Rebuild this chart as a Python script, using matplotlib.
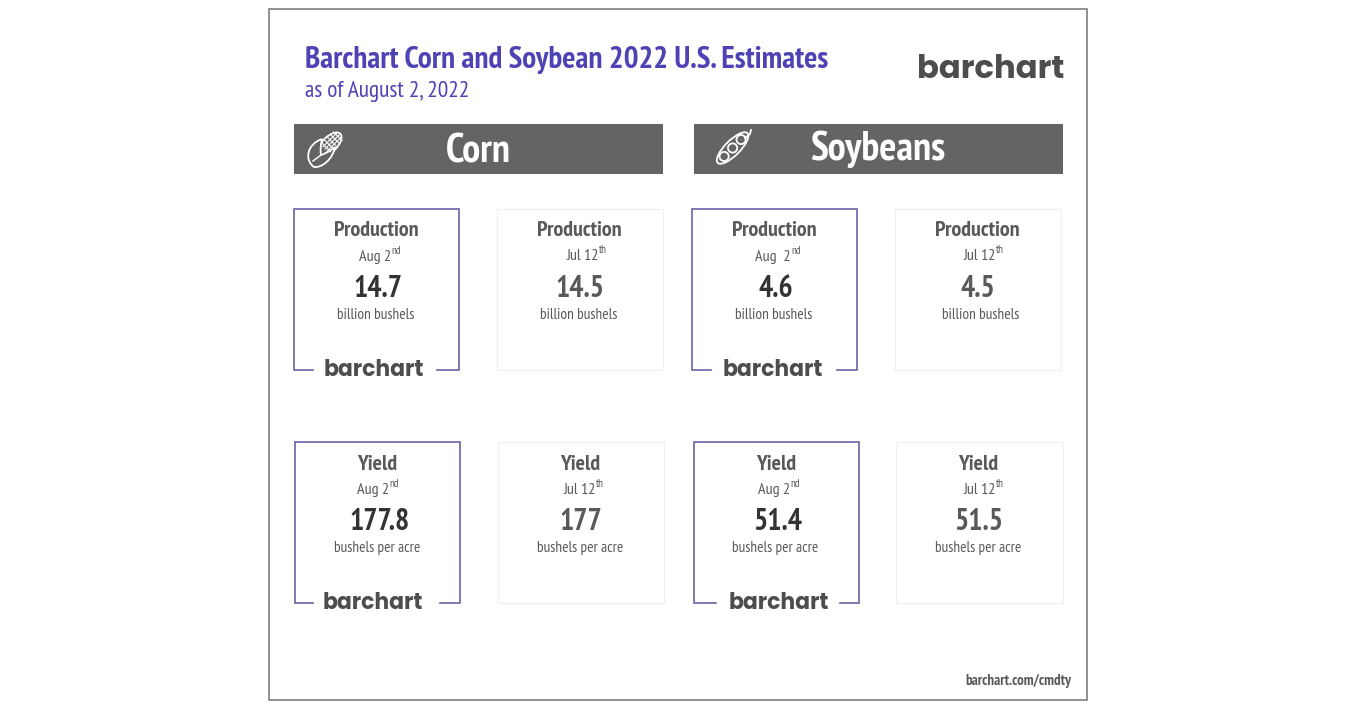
import matplotlib
matplotlib.use('Agg')
import matplotlib.pyplot as plt
from matplotlib.patches import Rectangle, Ellipse, Circle, PathPatch
from matplotlib.path import Path
from matplotlib.transforms import Affine2D

plt.rcParams['font.family'] = ['PT Sans Narrow', 'Open Sans Condensed', 'Liberation Sans Narrow', 'Liberation Sans', 'DejaVu Sans']

PURPLE = '#4f42b5'
BOX_PURPLE = '#6a62a8'
GREY = '#58595b'
BAR_GREY = '#636466'
DARK = '#333333'

# chart values
title = 'Barchart Corn and Soybean 2022 U.S. Estimates'
subtitle = 'as of August 2, 2022'
crops = ['Corn', 'Soybeans']
metrics = ['Production', 'Production', 'Production', 'Production',
           'Yield', 'Yield', 'Yield', 'Yield']
dates = ['Aug 2', 'Jul 12', 'Aug  2', 'Jul 12', 'Aug 2', 'Jul 12', 'Aug 2', 'Jul 12']
suffixes = ['nd', 'th', 'nd', 'th', 'nd', 'th', 'nd', 'th']
values = ['14.7', '14.5', '4.6', '4.5', '177.8', '177', '51.4', '51.5']
units = ['billion bushels'] * 4 + ['bushels per acre'] * 4
latest = [True, False, True, False, True, False, True, False]

# layout in pixels
card_x = [294, 497, 692, 895, 295, 498, 694, 896]
card_y = [209, 209, 209, 209, 442, 442, 442, 442]
card_w = [165, 166, 165, 166, 165, 166, 165, 167]
card_h = 161
metric_cx = [376, 579, 774, 977, 377, 580, 776, 978]
date_x = [359, 566, 755, 963, 357, 563, 758, 963]
value_cx = [378, 580, 776, 978, 380, 581, 778, 979]
unit_cx = [376, 579, 774, 981, 377, 580, 775, 978]
gap_l = [313, 0, 711, 0, 313, 0, 716, 0]
gap_r = [437, 0, 837, 0, 440, 0, 840, 0]
logo_cx = [374, 0, 773, 0, 373, 0, 779, 0]

fig = plt.figure(figsize=(13.62, 7.12), dpi=100)
ax = fig.add_axes([0, 0, 1, 1])
ax.set_xlim(0, 1362)
ax.set_ylim(712, 0)
ax.axis('off')


def logo(cx, baseline, size):
    ax.text(cx, baseline, 'barchart', family=['Poppins', 'Inter', 'DejaVu Sans'], weight='bold',
            fontsize=size, color='#4d4d4f', ha='center', va='baseline')


def corn_icon(cx, cy, lw=1.3):
    rot = Affine2D().rotate_deg_around(cx + 6, cy - 6, 45) + ax.transData
    ax.add_patch(Ellipse((cx + 6, cy - 6), 15, 29, fc=BAR_GREY, ec='white', lw=lw, transform=rot))
    # kernel grid
    for dy in (-17, -13, -9, -5, -1):
        ax.plot([cx, cx + 12], [cy + dy, cy + dy], color='white', lw=0.8, transform=rot)
    for dx in (3, 6, 9):
        ax.plot([cx + dx, cx + dx], [cy - 19, cy + 1], color='white', lw=0.8, transform=rot)
    # husk leaves
    husk = Path([(cx - 2, cy - 11), (cx - 17, cy - 6), (cx - 20, cy + 10), (cx - 10, cy + 17),
                 (cx - 2, cy + 18), (cx + 9, cy + 9), (cx + 11, cy - 3),
                 (cx + 5, cy + 2), (cx, cy + 4), (cx - 3, cy + 5),
                 (cx - 4, cy - 1), (cx - 3, cy - 6), (cx - 2, cy - 11)],
                [Path.MOVETO, Path.CURVE4, Path.CURVE4, Path.CURVE4,
                 Path.CURVE4, Path.CURVE4, Path.CURVE4,
                 Path.CURVE4, Path.CURVE4, Path.CURVE4,
                 Path.CURVE4, Path.CURVE4, Path.CURVE4])
    ax.add_patch(PathPatch(husk, fc=BAR_GREY, ec='white', lw=lw))
    ax.plot([cx - 11, cx - 3], [cy + 11, cy + 5], color='white', lw=lw * 0.8)


def soy_icon(cx, cy, lw=1.3):
    rot = Affine2D().rotate_deg_around(cx, cy, 45) + ax.transData
    ax.add_patch(Ellipse((cx - 1, cy + 1), 15, 42, fc=BAR_GREY, ec='white', lw=lw, transform=rot))
    # pod tip
    ax.plot([cx + 11, cx + 16, cx + 17], [cy - 10, cy - 14, cy - 18], color='white', lw=lw)
    for dy in (-12, 0, 12):
        ax.add_patch(Circle((cx - 1, cy + 1 + dy), 4.6, fc=BAR_GREY, ec='white', lw=lw, transform=rot))


# outer frame
ax.add_patch(Rectangle((269, 9), 818, 691, fc='white', ec='#7f7f7f', lw=1.2))

ax.text(305, 60, title, color=PURPLE, fontsize=22.4, weight='bold', va='center')
ax.text(305, 92, subtitle, color=PURPLE, fontsize=16.8, va='center')
logo(991, 78, 23.2)

# crop header bars
ax.add_patch(Rectangle((294, 124), 369, 50, fc=BAR_GREY, ec='none'))
ax.add_patch(Rectangle((694, 124), 369, 50, fc=BAR_GREY, ec='none'))
ax.text(478, 152, crops[0], color='white', fontsize=29, weight='bold', ha='center', va='center')
ax.text(878, 149, crops[1], color='white', fontsize=29, weight='bold', ha='center', va='center')
corn_icon(324, 150)
soy_icon(734, 148)

fig.canvas.draw()
renderer = fig.canvas.get_renderer()

for i in range(8):
    x, y, w = card_x[i], card_y[i], card_w[i]
    if latest[i]:
        ax.plot([gap_l[i], x, x, x + w, x + w, gap_r[i]],
                [y + card_h, y + card_h, y, y, y + card_h, y + card_h],
                color=BOX_PURPLE, lw=1.2, solid_joinstyle='miter')
        logo(logo_cx[i], y + card_h + 6, 15.8)
    else:
        ax.add_patch(Rectangle((x, y), w, card_h, fc='white', ec='#f0f0f0', lw=0.9))

    ax.text(metric_cx[i], y + 22, metrics[i], color=GREY, fontsize=15.8, weight='bold',
            ha='center', va='center')
    dy = 48 if i != 1 and i != 3 else 47
    d = ax.text(date_x[i], y + dy, dates[i], color=GREY, fontsize=11.5, ha='left', va='center')
    ext = d.get_window_extent(renderer)
    ax.text(ext.x1 + 0.5, y + dy - 6, suffixes[i], color=GREY, fontsize=8, ha='left', va='center')
    ax.text(value_cx[i], y + 80, values[i], color=DARK if latest[i] else GREY, fontsize=21.5,
            weight='bold', ha='center', va='center')
    ax.text(unit_cx[i], y + 106, units[i], color=GREY, fontsize=11, ha='center', va='center')

ax.text(1071, 681, 'barchart.com/cmdty', color=GREY, fontsize=10.7, weight='bold',
        ha='right', va='center')

fig.savefig('out.png', dpi=100)
